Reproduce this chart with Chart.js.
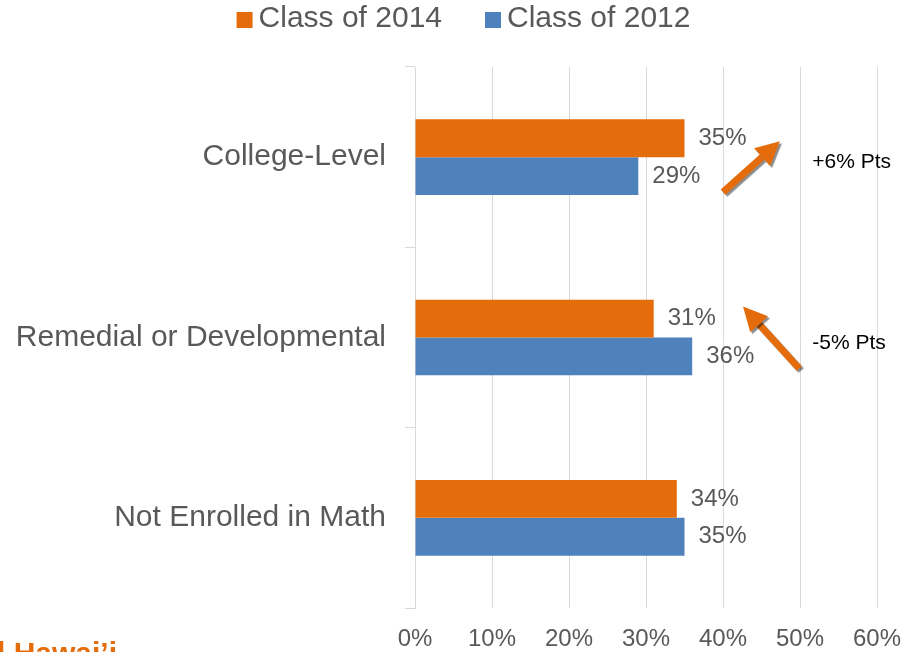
<!DOCTYPE html>
<html>
<head>
<meta charset="utf-8">
<script src="https://cdn.jsdelivr.net/npm/chart.js@4/dist/chart.umd.min.js"></script>
<style>
  body { margin: 0; background: #fff; }
  canvas { display: block; }
</style>
</head>
<body>
<canvas id="chartBar" width="903" height="652"></canvas>
<script>
"use strict"

// dati
const categories = ["College-Level", "Remedial or Developmental", "Not Enrolled in Math"];
const seriesNames = ["Class of 2014", "Class of 2012"];
const class2014 = [35, 31, 34];
const class2012 = [29, 36, 35];
const xTicks = [0, 10, 20, 30, 40, 50, 60];

// frecce e note (valori in % sull'asse x, categoria di riferimento)
const arrowNotes = [
    { cat: 0, from: 40.0, to: 47.4, dyFrom: 35, dyTo: -16, text: "+6% Pts", textAt: 51.6, dyText: 5 },
    { cat: 1, from: 49.9, to: 42.6, dyFrom: 31, dyTo: -31, text: "-5% Pts", textAt: 51.6, dyText: 6 }
];

const FONT = "'Liberation Sans', Arial, sans-serif";
const ORANGE = "#e46c0a";
const BLUE = "#4f81bd";
const GREY_TEXT = "#595959";
const GRID = "#d9d9d9";

let drawArrow = function(ctx, x1, y1, x2, y2){
    const ang = Math.atan2(y2 - y1, x2 - x1);
    const headLen = 24;
    const headW = 12;
    const bx = x2 - headLen * Math.cos(ang);
    const by = y2 - headLen * Math.sin(ang);
    ctx.save();
    ctx.shadowColor = "rgba(0,0,0,0.45)";
    ctx.shadowOffsetX = 2;
    ctx.shadowOffsetY = 2;
    ctx.shadowBlur = 1;
    ctx.fillStyle = ORANGE;
    ctx.strokeStyle = ORANGE;
    ctx.lineWidth = 7;
    ctx.beginPath();
    ctx.moveTo(x1, y1);
    ctx.lineTo(bx, by);
    ctx.stroke();
    ctx.beginPath();
    ctx.moveTo(x2, y2);
    ctx.lineTo(bx + headW * Math.sin(ang), by - headW * Math.cos(ang));
    ctx.lineTo(bx - headW * Math.sin(ang), by + headW * Math.cos(ang));
    ctx.closePath();
    ctx.fill();
    ctx.restore();
}

// etichette, legenda, frecce
const extras = {
    id: "extras",
    afterDatasetsDraw(chart){
        const ctx = chart.ctx;
        const xs = chart.scales.x;
        const ys = chart.scales.y;

        // etichette dei valori
        ctx.save();
        ctx.font = "24px " + FONT;
        ctx.fillStyle = GREY_TEXT;
        ctx.textAlign = "left";
        ctx.textBaseline = "middle";
        chart.data.datasets.forEach((ds, i) => {
            chart.getDatasetMeta(i).data.forEach((bar, j) => {
                ctx.fillText(ds.data[j] + "%", bar.x + 14, bar.y);
            });
        });
        ctx.restore();

        // legenda
        ctx.save();
        ctx.font = "30px " + FONT;
        ctx.textBaseline = "middle";
        ctx.textAlign = "left";
        const box = 16, gapBox = 6, gapItem = 43;
        const widths = chart.data.datasets.map(ds => box + gapBox + ctx.measureText(ds.label).width);
        const total = widths.reduce((a, b) => a + b, 0) + gapItem * (widths.length - 1);
        let x = chart.width / 2 + 12 - total / 2;
        chart.data.datasets.forEach((ds, i) => {
            ctx.fillStyle = ds.backgroundColor;
            ctx.fillRect(x, 12, box, box);
            ctx.fillStyle = GREY_TEXT;
            ctx.fillText(ds.label, x + box + gapBox, 19);
            x += widths[i] + gapItem;
        });
        ctx.restore();

        // frecce e note
        arrowNotes.forEach(a => {
            const cy = ys.getPixelForValue(a.cat);
            drawArrow(ctx, xs.getPixelForValue(a.from), cy + a.dyFrom, xs.getPixelForValue(a.to), cy + a.dyTo);
            ctx.save();
            ctx.font = "21px " + FONT;
            ctx.fillStyle = "#000";
            ctx.textAlign = "left";
            ctx.textBaseline = "middle";
            ctx.fillText(a.text, xs.getPixelForValue(a.textAt), cy + a.dyText);
            ctx.restore();
        });

        // logo tagliato in basso a sinistra
        ctx.save();
        ctx.font = "bold 30px " + FONT;
        ctx.fillStyle = ORANGE;
        ctx.textAlign = "right";
        ctx.textBaseline = "alphabetic";
        ctx.fillText("l Hawai\u2019i", 117, 663);
        ctx.restore();
    }
};

const canvas = document.getElementById("chartBar");
new Chart(canvas, {
    type: "bar",
    data: {
        labels: categories,
        datasets: [
            { label: seriesNames[0], data: class2014, backgroundColor: ORANGE, borderWidth: 0 },
            { label: seriesNames[1], data: class2012, backgroundColor: BLUE, borderWidth: 0 }
        ]
    },
    options: {
        indexAxis: "y",
        responsive: false,
        animation: false,
        devicePixelRatio: 1,
        layout: { padding: { top: 67, right: 26, bottom: 0, left: 0 } },
        datasets: { bar: { barPercentage: 1, categoryPercentage: 0.42 } },
        plugins: {
            legend: { display: false },
            tooltip: { enabled: false }
        },
        scales: {
            x: {
                min: 0,
                max: 60,
                afterBuildTicks: (scale) => { scale.ticks = xTicks.map(v => ({ value: v })); },
                afterFit: (scale) => {
                    scale.height = 44;
                    scale.paddingLeft = 0;
                    scale.paddingRight = 0;
                },
                border: { display: false },
                grid: { color: GRID, lineWidth: 1, drawTicks: false },
                ticks: {
                    callback: v => v + "%",
                    color: GREY_TEXT,
                    font: { family: FONT, size: 24 },
                    padding: 17,
                    maxRotation: 0
                }
            },
            y: {
                afterFit: (scale) => { scale.width = 415; },
                border: { display: true, color: GRID, width: 1 },
                grid: { drawOnChartArea: false, color: GRID, tickLength: 10, offset: true },
                ticks: {
                    color: GREY_TEXT,
                    font: { family: FONT, size: 30 },
                    padding: 19
                }
            }
        }
    },
    plugins: [extras]
});
</script>
</body>
</html>
